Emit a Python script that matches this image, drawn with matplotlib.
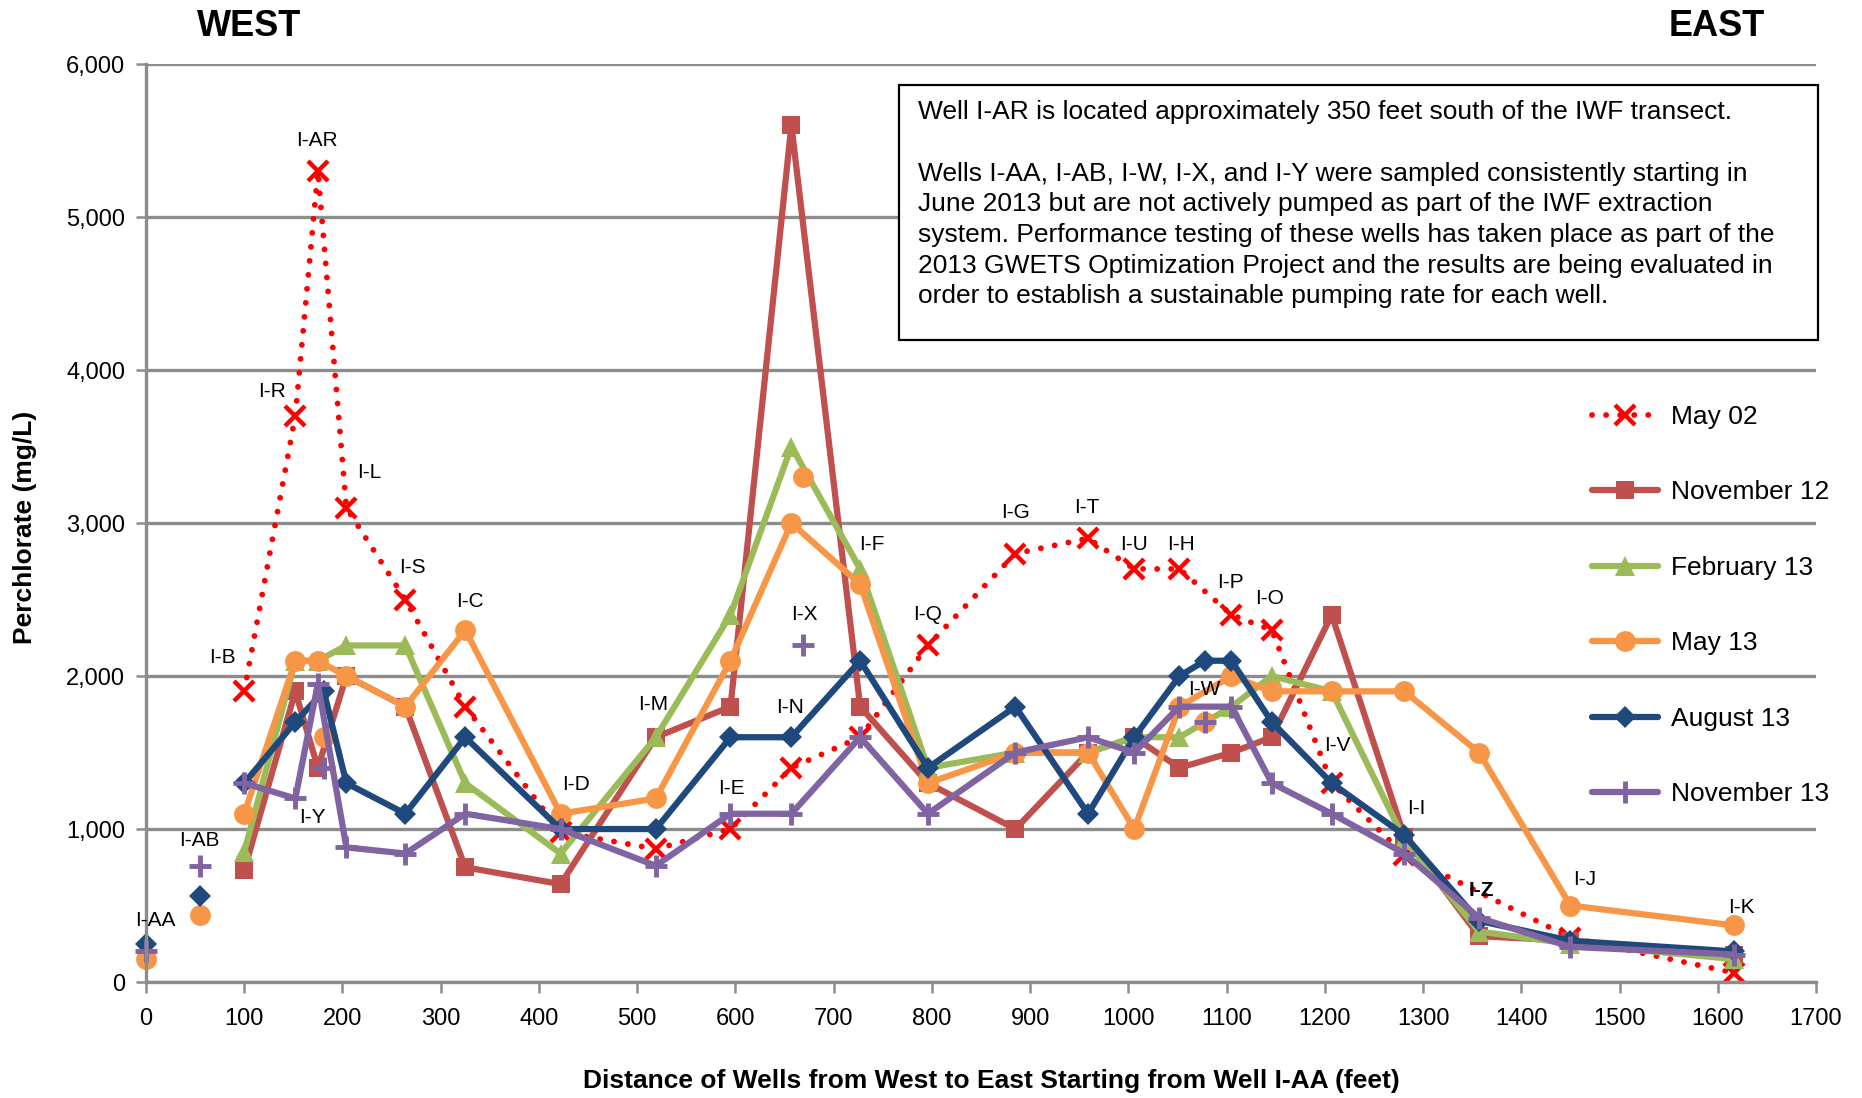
import numpy as np
import matplotlib
matplotlib.use("Agg")
from matplotlib import pyplot as plt
from matplotlib.patches import Rectangle

plt.rcParams['font.family'] = ['Liberation Sans', 'DejaVu Sans']

nan = np.nan

# wells, west to east
wells = ['I-AA', 'I-AB', 'I-B', 'I-R', 'I-AR', 'I-Y', 'I-L', 'I-S', 'I-C', 'I-D',
         'I-M', 'I-E', 'I-N', 'I-X', 'I-F', 'I-Q', 'I-G', 'I-T', 'I-U', 'I-H',
         'I-W', 'I-P', 'I-O', 'I-V', 'I-I', 'I-Z', 'I-J', 'I-K']
distance = [0, 55, 100, 152, 175, 181, 204, 264, 325, 422,
            519, 595, 657, 669, 727, 796, 885, 959, 1006, 1052,
            1078, 1105, 1146, 1207, 1281, 1357, 1450, 1617]

may02 = [nan, nan, 1900, 3700, 5300, nan, 3100, 2500, 1800, 980,
         870, 1000, 1400, nan, 1600, 2200, 2800, 2900, 2700, 2700,
         nan, 2400, 2300, 1300, 830, nan, 290, 60]
nov12 = [nan, nan, 730, 1900, 1400, nan, 2000, 1800, 750, 640,
         1600, 1800, 5600, nan, 1800, 1300, 1000, 1500, 1600, 1400,
         nan, 1500, 1600, 2400, 950, 300, 270, 175]
feb13 = [nan, nan, 850, 2100, 2100, nan, 2200, 2200, 1300, 840,
         1600, 2400, 3500, nan, 2700, 1400, 1500, 1500, 1600, 1600,
         nan, 1800, 2000, 1900, 930, 330, 250, 150]
may13 = [150, 440, 1100, 2100, 2100, 1600, 2000, 1800, 2300, 1100,
         1200, 2100, 3000, 3300, 2600, 1300, 1500, 1500, 1000, 1800,
         1700, 2000, 1900, 1900, 1900, 1500, 500, 370]
aug13 = [250, 560, 1300, 1700, nan, 1900, 1300, 1100, 1600, 1000,
         1000, 1600, 1600, nan, 2100, 1400, 1800, 1100, 1600, 2000,
         2100, 2100, 1700, 1300, 960, 400, 270, 200]
nov13 = [200, 760, 1300, 1200, 1950, 1400, 880, 840, 1100, 1000,
         760, 1100, 1100, 2200, 1600, 1100, 1500, 1600, 1500, 1800,
         1700, 1800, 1300, 1100, 840, 420, 230, 180]

# wells plotted as loose points (not joined to the line)
not_pumped = ['I-AA', 'I-AB', 'I-Y', 'I-X', 'I-W']
aug13_loose = ['I-AA', 'I-AB']

# where each well name is written (feet, mg/L)
label_x = [10, 54, 78, 128, 174, 169, 227, 271, 330, 438,
           516, 596, 656, 670, 739, 796, 885, 958, 1006, 1054,
           1077, 1104, 1144, 1213, 1293, 1359, 1465, 1624]
label_y = [400, 927, 2120, 3862, 5498, 1073, 3330, 2710, 2485, 1290,
           1817, 1266, 1793, 2405, 2862, 2405, 3070, 3100, 2862, 2862,
           1909, 2610, 2506, 1545, 1134, 600, 671, 485]

note = ("Well I-AR is located approximately 350 feet south of the IWF transect.\n\n"
        "Wells I-AA, I-AB, I-W, I-X, and I-Y were sampled consistently starting in\n"
        "June 2013 but are not actively pumped as part of the IWF extraction\n"
        "system. Performance testing of these wells has taken place as part of the\n"
        "2013 GWETS Optimization Project and the results are being evaluated in\n"
        "order to establish a sustainable pumping rate for each well.")

fig = plt.figure(figsize=(18.62, 10.98), dpi=100)
ax = fig.add_axes([0.0784, 0.1056, 0.8969, 0.8361])

x = np.array(distance, dtype=float)


def draw(vals, loose, label, color, marker, ms, mew=0, ls='-', lw=4.5):
    v = np.array(vals, dtype=float)
    is_loose = np.array([w in loose for w in wells])
    vl = np.where(is_loose, nan, v)
    m = ~np.isnan(vl)
    line, = ax.plot(x[m], vl[m], color=color, lw=lw, ls=ls, marker=marker,
                    ms=ms, mew=mew, mec=color, mfc=color, label=label,
                    clip_on=False, solid_capstyle='round',
                    dash_capstyle='round')
    vp = np.where(is_loose, v, nan)
    m2 = ~np.isnan(vp)
    if m2.any():
        ax.plot(x[m2], vp[m2], ls='none', marker=marker, ms=ms, mew=mew,
                mec=color, mfc=color, color=color, clip_on=False)
    return line


h = []
h.append(draw(may02, [], 'May 02', '#FF0000', 'x', 14, mew=3.2,
              ls=(0, (0.01, 2.4)), lw=4.2))
h.append(draw(nov12, not_pumped, 'November 12', '#C0504D', 's', 13))
h.append(draw(feb13, not_pumped, 'February 13', '#9BBB59', '^', 15))
h.append(draw(may13, not_pumped, 'May 13', '#F79646', 'o', 15))
h.append(draw(aug13, aug13_loose, 'August 13', '#1F497D', 'D', 11))
h.append(draw(nov13, not_pumped, 'November 13', '#8064A2', '+', 16, mew=3.5))

for name, lx, ly in zip(wells, label_x, label_y):
    ax.text(lx, ly, name, ha='center', va='center', fontsize=15,
            fontweight='bold' if name == 'I-Z' else 'normal', zorder=10)

ax.set_xlim(0, 1700)
ax.set_ylim(0, 6000)
ax.set_xticks(np.arange(0, 1701, 100))
ax.set_yticks(np.arange(0, 6001, 1000))
ax.set_yticklabels([f'{v:,}' for v in range(0, 6001, 1000)])
ax.yaxis.grid(True, color='#8C8C8C', lw=2.4)
ax.set_axisbelow(True)
for s in ['top', 'right']:
    ax.spines[s].set_visible(False)
for s in ['left', 'bottom']:
    ax.spines[s].set_color('#8C8C8C')
    ax.spines[s].set_linewidth(2.4)
ax.tick_params(axis='x', direction='out', length=8, width=1.8,
               color='#8C8C8C', labelsize=17, pad=11)
ax.tick_params(axis='y', direction='out', length=7, width=1.8,
               color='#8C8C8C', labelsize=17, pad=8)

ax.set_xlabel('Distance of Wells from West to East Starting from Well I-AA (feet)',
              fontsize=19, fontweight='bold')
ax.xaxis.set_label_coords(0.506, -0.095)
ax.set_ylabel('Perchlorate (mg/L)', fontsize=19, fontweight='bold')
ax.yaxis.set_label_coords(-0.065, 0.495)

fig.text(249 / 1862, 1 - 26 / 1098, 'WEST', ha='center', va='center',
         fontsize=26, fontweight='bold')
fig.text(1717 / 1862, 1 - 26 / 1098, 'EAST', ha='center', va='center',
         fontsize=26, fontweight='bold')

ax.add_patch(Rectangle((0.451, 0.6998), 0.550, 0.2768, transform=ax.transAxes,
                       facecolor='white', edgecolor='black', lw=1.6,
                       clip_on=False, zorder=20))
ax.text(0.4623, 0.9605, note, transform=ax.transAxes, ha='left', va='top',
        fontsize=19, linespacing=1.35, zorder=21)

ax.legend(handles=h, loc='center left', bbox_to_anchor=(0.866, 0.41),
          frameon=False, fontsize=19, handlelength=2.5, handletextpad=0.5,
          labelspacing=1.95, borderpad=0, borderaxespad=0)

fig.savefig('out.png', dpi=100)
